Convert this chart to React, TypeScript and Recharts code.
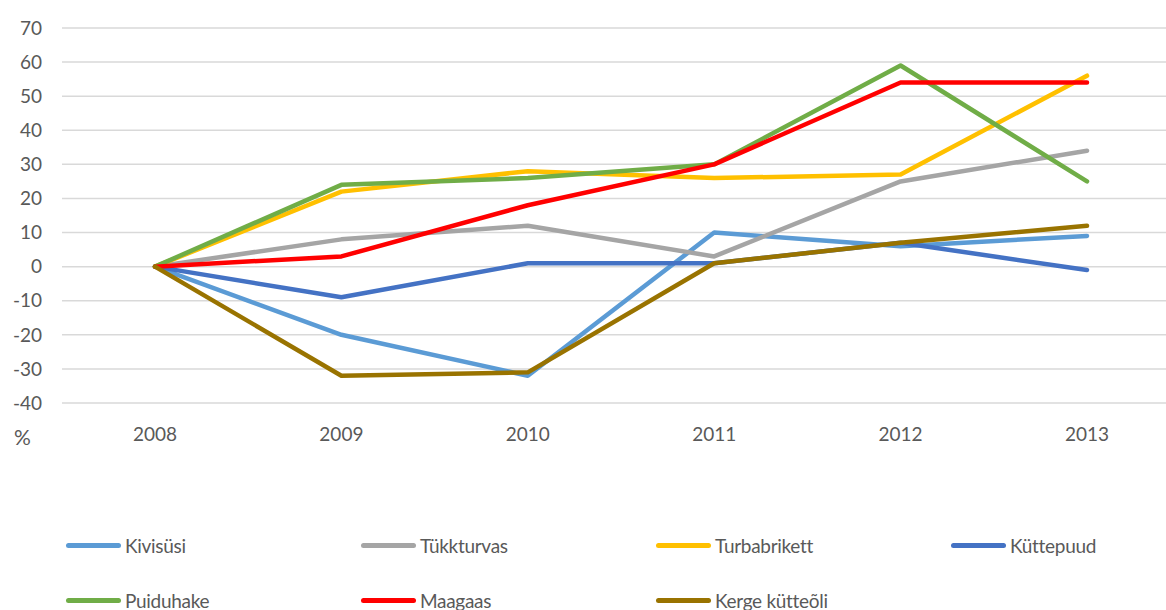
import { LineChart, Line, XAxis, YAxis, CartesianGrid } from "recharts"

const years = ["2008", "2009", "2010", "2011", "2012", "2013"]

const kivisusi = [0, -20, -32, 10, 6, 9]
const tukkturvas = [0, 8, 12, 3, 25, 34]
const turbabrikett = [0, 22, 28, 26, 27, 56]
const kuttepuud = [0, -9, 1, 1, 7, -1]
const puiduhake = [0, 24, 26, 30, 59, 25]
const maagaas = [0, 3, 18, 30, 54, 54]
const kergeKutteoli = [0, -32, -31, 1, 7, 12]

const yTicks = [-40, -30, -20, -10, 0, 10, 20, 30, 40, 50, 60, 70]

const SERIES = [
  { key: "kivisusi", name: "Kivisüsi", values: kivisusi, color: "#5b9bd5" },
  { key: "tukkturvas", name: "Tükkturvas", values: tukkturvas, color: "#a5a5a5" },
  { key: "turbabrikett", name: "Turbabrikett", values: turbabrikett, color: "#ffc000" },
  { key: "kuttepuud", name: "Küttepuud", values: kuttepuud, color: "#4472c4" },
  { key: "puiduhake", name: "Puiduhake", values: puiduhake, color: "#70ad47" },
  { key: "maagaas", name: "Maagaas", values: maagaas, color: "#ff0000" },
  { key: "kerge", name: "Kerge kütteõli", values: kergeKutteoli, color: "#997300" },
]

const data = years.map((year, i) => {
  const row: Record<string, string | number> = { year }
  SERIES.forEach((s) => {
    row[s.key] = s.values[i]
  })
  return row
})

const FONT = "Lato, 'Open Sans', sans-serif"
const TEXT = "#595959"

export default function App() {
  return (
    <div
      style={{
        position: "absolute",
        left: 0,
        top: 0,
        width: 1166,
        height: 610,
        overflow: "hidden",
        background: "#fff",
        fontFamily: FONT,
      }}
    >
      <LineChart
        width={1180}
        height={610}
        data={data}
        margin={{ top: 28, right: 0, bottom: 167, left: 10 }}
      >
        <CartesianGrid vertical={false} stroke="#d9d9d9" strokeWidth={1.5} />
        <XAxis
          dataKey="year"
          axisLine={false}
          tickLine={false}
          tickSize={0}
          tickMargin={25}
          height={40}
          padding={{ left: 93, right: 93 }}
          tick={{ fill: TEXT, fontSize: 19, fontFamily: FONT }}
        />
        <YAxis
          type="number"
          domain={[-40, 70]}
          ticks={yTicks}
          interval={0}
          width={52}
          axisLine={false}
          tickLine={false}
          tickSize={0}
          tickMargin={20}
          tick={{ fill: TEXT, fontSize: 19, fontFamily: FONT }}
        />
        {SERIES.map((s) => (
          <Line
            key={s.key}
            dataKey={s.key}
            name={s.name}
            stroke={s.color}
            strokeWidth={4.5}
            dot={false}
            activeDot={false}
            strokeLinecap="round"
            strokeLinejoin="round"
            isAnimationActive={false}
          />
        ))}
      </LineChart>

      <div
        style={{
          position: "absolute",
          left: 14,
          top: 424,
          fontSize: 21,
          color: TEXT,
        }}
      >
        %
      </div>

      <div
        style={{
          position: "absolute",
          left: 66,
          top: 533,
          width: 1180,
          display: "grid",
          gridTemplateColumns: "295px 295px 295px 295px",
          rowGap: 30,
        }}
      >
        {SERIES.map((s) => (
          <div
            key={s.key}
            style={{ display: "flex", alignItems: "center", height: 25 }}
          >
            <span
              style={{
                display: "inline-block",
                width: 55,
                height: 5,
                borderRadius: 3,
                background: s.color,
                marginRight: 4,
              }}
            />
            <span style={{ fontSize: 19, color: TEXT, letterSpacing: -0.3 }}>
              {s.name}
            </span>
          </div>
        ))}
      </div>
    </div>
  )
}
